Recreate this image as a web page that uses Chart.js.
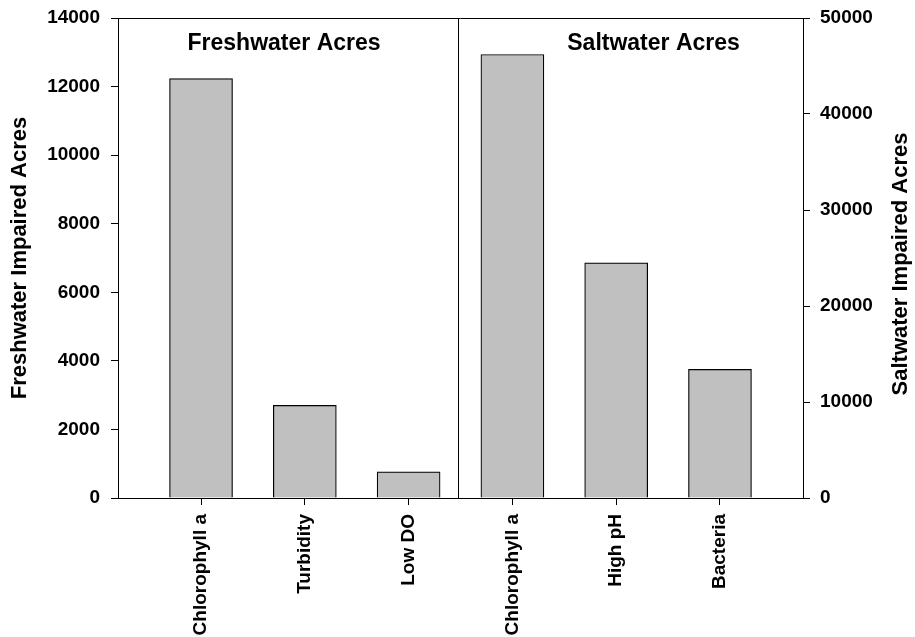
<!DOCTYPE html>
<html>
<head>
<meta charset="utf-8">
<script src="https://cdn.jsdelivr.net/npm/chart.js@4"></script>
<style>
  body { margin: 0; background: #fff; }
  #wrap { width: 915px; height: 637px; position: relative; }
</style>
</head>
<body>
<div id="wrap"><canvas id="acres"></canvas></div>
<script>
// values
var freshCats = ['Chlorophyll a', 'Turbidity', 'Low DO'];
var freshAcres = [12230, 2700, 760];
var saltCats = ['Chlorophyll a', 'High pH', 'Bacteria'];
var saltAcres = [46200, 24500, 13400];
var freshTicks = [0, 2000, 4000, 6000, 8000, 10000, 12000, 14000];
var saltTicks = [0, 10000, 20000, 30000, 40000, 50000];

var labels = freshCats.concat(saltCats);
var freshPoints = freshAcres.map((v, i) => ({x: i, y: v}));
var saltPoints = saltAcres.map((v, i) => ({x: i + freshCats.length, y: v}));

var fontFam = 'Arial, "Liberation Sans", sans-serif';

// top frame line, divider, panel titles and the right axis title (reads upward)
var framePlugin = {
  id: 'frame',
  afterDraw(chart) {
    var ctx = chart.ctx, a = chart.chartArea, xs = chart.scales.x;
    ctx.save();
    ctx.strokeStyle = '#000';
    ctx.lineWidth = 1;
    ctx.beginPath();
    ctx.moveTo(a.left, Math.round(a.top) + 0.5);
    ctx.lineTo(a.right, Math.round(a.top) + 0.5);
    var dx = Math.round(xs.getPixelForValue(2.48)) + 0.5;
    ctx.moveTo(dx, a.top);
    ctx.lineTo(dx, a.bottom);
    ctx.stroke();
    ctx.fillStyle = '#000';
    ctx.font = 'bold 23px ' + fontFam;
    ctx.textAlign = 'center';
    ctx.textBaseline = 'middle';
    ctx.fillText('Freshwater Acres', xs.getPixelForValue(0.8), a.top + 26);
    ctx.fillText('Saltwater Acres', xs.getPixelForValue(4.36), a.top + 26);
    ctx.translate(901, (a.top + a.bottom) / 2 + 6);
    ctx.rotate(-Math.PI / 2);
    ctx.font = 'bold 22px ' + fontFam;
    ctx.fillText('Saltwater Impaired Acres', 0, 0);
    ctx.restore();
  }
};

var ctx = document.getElementById('acres');
var acresChart = new Chart(ctx, {
  type: 'bar',
  data: {
    datasets: [{
      data: freshPoints,
      yAxisID: 'yL',
      backgroundColor: '#c0c0c0',
      borderColor: '#000',
      borderWidth: 1.2,
      barThickness: 63,
      grouped: false
    }, {
      data: saltPoints,
      yAxisID: 'yR',
      backgroundColor: '#c0c0c0',
      borderColor: '#000',
      borderWidth: 1.2,
      barThickness: 63,
      grouped: false
    }]
  },
  options: {
    responsive: true,
    maintainAspectRatio: false,
    animation: false,
    layout: { padding: { top: 18, left: 0, right: 0, bottom: 0 } },
    plugins: { legend: { display: false }, tooltip: { enabled: false } },
    scales: {
      x: {
        type: 'linear',
        offset: false,
        min: -0.8,
        max: 5.8,
        afterBuildTicks: s => { s.ticks = labels.map((_, i) => ({value: i})); },
        afterFit: s => { s.height = 139; },
        grid: { display: true, offset: false, drawOnChartArea: false, drawTicks: true, tickLength: 7, color: '#000' },
        border: { display: true, color: '#000', width: 1 },
        ticks: {
          autoSkip: false,
          minRotation: 90,
          maxRotation: 90,
          padding: 9,
          color: '#000',
          font: { family: fontFam, size: 19, weight: 'bold' },
          callback: v => labels[v]
        }
      },
      yL: {
        position: 'left',
        min: 0,
        max: 14000,
        afterBuildTicks: s => { s.ticks = freshTicks.map(v => ({value: v})); },
        afterFit: s => { s.width = 118; s.paddingTop = 0; s.paddingBottom = 0; },
        grid: { display: true, drawOnChartArea: false, drawTicks: true, tickLength: 7, color: '#000' },
        border: { display: true, color: '#000', width: 1 },
        ticks: {
          padding: 11,
          color: '#000',
          font: { family: fontFam, size: 19, weight: 'bold' },
          callback: v => String(v)
        },
        title: {
          display: true,
          text: 'Freshwater Impaired Acres',
          color: '#000',
          padding: { top: 7, bottom: 0 },
          font: { family: fontFam, size: 22, weight: 'bold' }
        }
      },
      yR: {
        position: 'right',
        min: 0,
        max: 50000,
        afterBuildTicks: s => { s.ticks = saltTicks.map(v => ({value: v})); },
        afterFit: s => { s.width = 112; s.paddingTop = 0; s.paddingBottom = 0; },
        grid: { display: true, drawOnChartArea: false, drawTicks: true, tickLength: 7, color: '#000' },
        border: { display: true, color: '#000', width: 1 },
        ticks: {
          padding: 10,
          color: '#000',
          font: { family: fontFam, size: 19, weight: 'bold' },
          callback: v => String(v)
        }
      }
    }
  },
  plugins: [framePlugin]
});
</script>
</body>
</html>
